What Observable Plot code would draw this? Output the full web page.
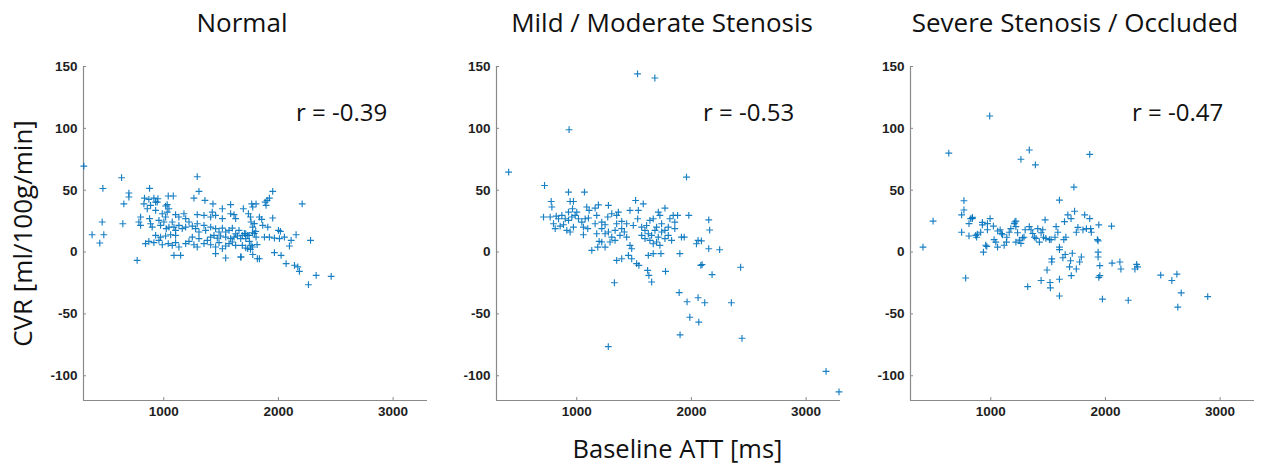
<!DOCTYPE html>
<html>
<head>
<meta charset="utf-8">
<script src="https://cdn.jsdelivr.net/npm/d3@7"></script>
<script src="https://cdn.jsdelivr.net/npm/@observablehq/plot@0.6"></script>
<style>
  html, body { margin: 0; padding: 0; background: #fff; }
  #wrap { position: relative; width: 1272px; height: 472px; overflow: hidden; background: #fff; }
  #wrap > svg.panel { position: absolute; }
  #overlay { position: absolute; left: 0; top: 0; pointer-events: none; }
</style>
</head>
<body>
<div id="wrap"></div>
<script>
// ---------- data ----------
const panelTitles = ["Normal", "Mild / Moderate Stenosis", "Severe Stenosis / Occluded"];
const rLabels = ["r = -0.39", "r = -0.53", "r = -0.47"];
const xLabel = "Baseline ATT [ms]";
const yLabel = "CVR [ml/100g/min]";
const xDomain = [300, 3300];
const yDomain = [-120, 150];
const xTicks = [1000, 2000, 3000];
const yTicks = [-100, -50, 0, 50, 100, 150];

const normalPoints = [
  [303,69.5],[632,60.1],[469,51.4],[1292,60.9],[876,51.5],[1307,49],[696,47.7],[696,44.5],[652,39],
  [832,43.6],[870,42.6],[914,43.6],[949,43.1],[929,40.4],[1039,45.3],[1083,45.3],[1263,43.6],[1359,41.8],
  [1429,39],[1511,35],[1583,38.3],[1694,35],[1767,39],[827,39],[885,37.7],[943,40.4],[1016,37.2],[1030,38.3],
  [1045,35],[856,35],[929,33.7],[987,31],[1030,32.3],[1103,30.2],[1132,28.3],[1176,31],[1191,27],
  [1292,30.2],[1351,29.7],[1409,28.3],[1423,32.3],[1452,29.7],[1511,27],[1583,31],[1613,30.2],[1627,27],
  [798,28.3],[783,24.3],[798,21.6],[876,27],[885,22.9],[899,20.2],[958,25.6],[972,21.6],[1001,24.3],
  [1016,28.3],[1022,18.9],[1045,20.2],[1074,24.3],[1089,20.2],[1103,17.5],[1132,21.6],[1161,18.9],
  [1191,20.2],[1220,24.3],[1249,21],[1278,18.9],[1292,22.9],[1307,16.2],[1351,21.6],[1365,17.5],
  [1409,20.2],[1452,18.9],[1482,16.2],[1511,19.4],[1540,16.2],[1569,17.5],[1598,19.4],[1627,14.8],
  [1656,17.5],[1685,13.5],[1715,14.8],[1744,13.5],[1773,15.6],[1802,16.7],
  [841,6.8],[870,8.6],[914,7.6],[958,9.4],[987,5.9],[1039,6.8],[1074,5.4],[1103,7.6],[1132,4.1],
  [1191,6.8],[1220,8.6],[1263,5.9],[1292,4.1],[1351,6.8],[1380,9.4],[1409,5.9],[1452,4.1],[1482,7.6],
  [1511,2.7],[1540,4.9],[1569,6.8],[1598,8.1],[1627,5.4],[1685,5.4],[1715,3.3],[1773,4.1],
  [1089,-2.7],[1147,-2.7],[768,-6.7],[1452,-1.3],[1540,-4.8],[1671,-4],[1816,-5.4],
  [929,13.5],[972,12.1],[1016,13],[1060,14],[1103,13.5],[1249,12.1],[1307,10.8],[1409,12.1],[1438,13.5],
  [1467,11.3],[1496,13],[1540,12.1],[1583,10.8],[1613,12.1],[1642,13],[1671,10.8],[1715,10.8],
  [463,24.3],[375,14],[477,14],[442,7.3],[643,22.9],
  [1950,49],[1921,43.6],[1901,41.8],[1884,40.4],[1892,37.7],[1805,39],[1776,36.4],[2207,39],
  [1738,31],[1756,28.3],[1834,28.3],[1854,26.4],[1950,27.5],[1761,24.3],[1790,23],[1863,21.6],
  [1907,20.2],[1776,20.2],[2000,17.5],[2017,16.7],[1703,15],[1732,13.5],[1790,15],[1805,12.1],
  [1878,12.1],[1921,12.1],[1965,11.3],[2009,10.8],[2052,12.1],[2154,14],[1747,8.6],[1761,5.4],
  [1814,6],[2111,9.5],[2280,9.5],[1732,2.7],[1756,2.2],[1674,-4],[1776,-2],[1834,-5.4],[1965,-0.5],
  [2023,-2.7],[2096,4.9],[2067,-9.4],[2140,-10.7],[2169,-12],[2183,-15.6],[2329,-18.8],[2460,-19.6],
  [2262,-26.4]
];

const mildPoints = [
  [406,64.6],[719,53.8],[928,48.5],[1067,48.5],[777,40.9],[783,36.4],[942,40.9],[971,40.9],[710,28.3],
  [768,28.3],[821,29.1],[841,26.9],[797,22.9],[812,18.9],[855,21],[884,22.1],[913,17.5],[942,16.2],
  [971,20.2],[986,29.6],[957,28.3],[928,32.3],[963,35],[1000,32.3],[1015,26.9],[1087,36.4],[1108,33.7],
  [1160,35.5],[1189,38.2],[1174,29.6],[1102,27.5],[1276,37.7],[1305,31],[1270,28.3],[1348,29.6],
  [1363,32.3],[1464,33.7],[1513,41.7],[1580,39],[1537,33.7],[1531,26.9],[1493,21.5],[1638,25.6],
  [1667,26.9],[1711,32.3],[1725,29.6],[1769,35.5],[1812,26.9],[1841,29.6],[1855,18.9],[1879,29.6],
  [1977,29.6],[1957,60.6],[1058,20.2],[1096,18.9],[1058,14],[1131,1.4],[1183,4],[1195,8.6],[1174,14.8],
  [1218,18.9],[1276,16.2],[1305,12.1],[1334,9.4],[1377,13.5],[1392,18.9],[1415,16.2],[1435,12.1],
  [1464,5.4],[1479,2.7],[1450,-2.7],[1479,-5.4],[1522,-9.4],[1542,-10.8],[1392,-5.4],[1348,-6.7],
  [1624,-2.7],[1667,-1.3],[1734,-1.3],[1774,-15.6],[1618,-14.8],[1629,-18.8],[1653,-24.2],[1328,-24.8],
  [1899,-1.3],[1913,12.1],[1937,12.1],[2044,6.7],[2082,-10.8],[2058,9.4],
  [1566,20.2],[1595,17.5],[1624,14.8],[1653,13.5],[1682,17.5],[1711,12.1],[1740,16.2],[1769,10.8],
  [1595,10.8],[1638,9.4],[1667,6.7],[1696,8.1],[1725,5.4],[1769,17.5],[1798,13.5],[1827,9.4],
  [1566,13.5],[1609,21.5],[1696,20.2],[1740,22.9],[1798,20.2],[1855,24.2],
  [1218,24.2],[1247,22.1],[1160,22.9],[899,26.9],[870,29.6],[928,25.6],[1044,24.2],[1073,26.9],
  [1348,22.9],[1392,24.8],[1435,22.9],[1334,17.5],[1247,14.8],[1290,8.1],[1218,8.1],[1247,4],
  [933,98.9],[1530,144],[1681,140.7],[1275,-76.5],[1893,-32.8],[1901,-66.9],[1962,-40.2],[1986,-52.7],
  [2058,-36.9],[2064,-56.6],[2116,-41],[2093,-10.1],[2151,26],[2159,17.8],[2151,2.7],[2180,-18.3],
  [2246,1.9],[2348,-41],[2429,-12.3],[2441,-69.7],[3174,-96.4],[3287,-113],[2087,9]
];

const severePoints = [
  [409,4],[497,25],[634,80],[991,110],[1263,75],[1336,82.5],[1389,70.5],[1863,79],[1725,52.5],[1599,42],
  [766,41.5],[766,34],[746,30],[746,16],[810,23],[810,13],[839,27],[781,-21],[877,12],[883,14.5],
  [927,24],[927,22],[912,16],[936,0],[956,5.5],[971,23],[994,27],[971,18],[1023,21],[1029,10],[1044,8],
  [1059,4],[1082,18],[1102,14],[1117,5.5],[1137,8],[1161,16],[1175,19],[1205,23],[1219,25],[1219,20.5],
  [1234,15.6],[1219,8],[1249,9.6],[1263,7],[1278,11.5],[1322,-28],[1336,20.5],[1351,18],[1366,15],
  [1380,12],[1395,11],[1410,19],[1424,8],[1439,15.6],[1453,18],[1474,26],[1491,-14.5],[1439,-23],
  [1512,10],[1526,10],[1532,-5.5],[1532,-8],[1517,-24.6],[1520,-29],[1570,20.5],[1585,16],[1599,4],
  [1599,2],[1599,-22],[1599,-35.5],[1629,-4.6],[1649,-2],[1637,10],[1643,24.6],[1672,30],[1687,-12],
  [1696,-7],[1702,-19],[1711,-1],[1731,33],[1746,16],[1746,-13.7],[1775,-8],[1790,-4],[1804,18],
  [1819,30],[1834,19],[1863,27],[1871,19],[1877,16],[1930,10],[1936,9],[1936,0],[1936,-4],[1942,22],
  [1951,-11],[1951,-19],[1942,-20.5],[1974,-38],[2053,21],[2058,-9],[2126,-8],[2135,-13.7],[2199,-39],
  [2257,-13.7],[2272,-10],[2281,-12],[2482,-18.6],[2579,-23],[2623,-17.8],[2631,-44.5],[2661,-33],
  [2892,-36],[825,27],[840,28],[869,13.5],[965,4.6],[1210,24.3],[1060,17],[1095,15],[1140,12],
  [1290,12],[1300,18],[1460,12],[1480,11],[1560,12],[1655,12],[1700,27],[1760,20]
];

const panels = [normalPoints, mildPoints, severePoints];

// ---------- layout ----------
const frameLefts = [83, 496, 909.5];
const frameTop = 66;
const frameW = 344, frameH = 334;
const mL = 45, mR = 8, mT = 8, mB = 30;
const axisColor = "#8a8a8a";
const textColor = "#1e1e1e";
const markColor = "#0072BD";

const thinPlus = {
  draw(ctx, size) {
    const r = Math.sqrt(size / Math.PI);
    ctx.moveTo(-r, 0); ctx.lineTo(r, 0);
    ctx.moveTo(0, -r); ctx.lineTo(0, r);
  }
};

const wrap = document.getElementById("wrap");

panels.forEach((pts, i) => {
  const chart = Plot.plot({
    width: mL + frameW + mR,
    height: mT + frameH + mB,
    marginLeft: mL, marginRight: mR, marginTop: mT, marginBottom: mB,
    x: {domain: xDomain},
    y: {domain: yDomain},
    style: {
      fontFamily: "'Liberation Sans', Arial, sans-serif",
      fontSize: "13.5px",
      fontWeight: "bold",
      color: textColor,
      background: "transparent",
      overflow: "visible"
    },
    marks: [
      Plot.ruleX([xDomain[0]], {stroke: axisColor, strokeWidth: 1.2}),
      Plot.ruleY([yDomain[0]], {stroke: axisColor, strokeWidth: 1.2}),
      Plot.axisX(xTicks, {tickSize: -3, tickPadding: 9, stroke: axisColor, fill: textColor, label: null, tickFormat: d => String(d)}),
      Plot.axisY(yTicks, {tickSize: -3, tickPadding: 9, stroke: axisColor, fill: textColor, label: null, tickFormat: d => String(d)}),
      Plot.dot(pts, {x: d => d[0], y: d => d[1], symbol: thinPlus, r: 3.4, stroke: markColor, fill: "none", strokeWidth: 1.15, strokeOpacity: 0.9})
    ]
  });
  chart.classList.add("panel");
  chart.style.left = (frameLefts[i] - mL) + "px";
  chart.style.top = (frameTop - mT) + "px";
  wrap.appendChild(chart);
});

// ---------- text overlay ----------
const titleX = [242, 662, 1075];
const rX = [296, 703, 1132];
const svg = d3.select(wrap).append("svg")
  .attr("id", "overlay").attr("width", 1272).attr("height", 472)
  .style("font-family", "'Open Sans', sans-serif").style("fill", "#111");

svg.selectAll("text.title").data(panelTitles).join("text")
  .attr("class", "title")
  .attr("x", (d, i) => titleX[i]).attr("y", 31.5)
  .attr("text-anchor", "middle").attr("font-size", 26)
  .text(d => d);

svg.selectAll("text.rlab").data(rLabels).join("text")
  .attr("class", "rlab")
  .attr("x", (d, i) => rX[i]).attr("y", 120.5)
  .attr("font-size", 24)
  .text(d => d);

svg.append("text")
  .attr("transform", "translate(32,233.5) rotate(-90)")
  .attr("text-anchor", "middle").attr("font-size", 26)
  .text(yLabel);

svg.append("text")
  .attr("x", 677.5).attr("y", 458)
  .attr("text-anchor", "middle").attr("font-size", 25.5)
  .text(xLabel);
</script>
</body>
</html>
